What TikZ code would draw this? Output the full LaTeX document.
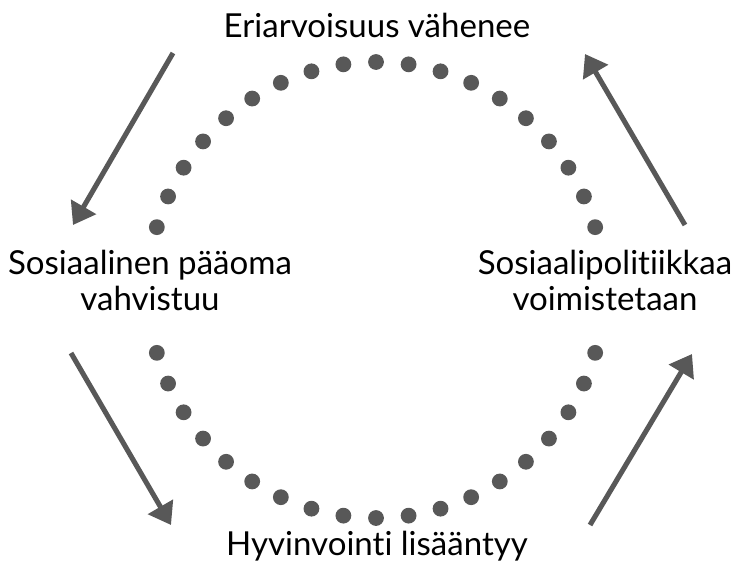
\documentclass[tikz,border=0pt]{standalone}
\usepackage{fontspec}
\setmainfont{Lato}[Ligatures=NoCommon]
\usetikzlibrary{arrows.meta}
\definecolor{dotgray}{HTML}{585858}

\begin{document}
\begin{tikzpicture}[x=0.025cm,y=-0.025cm,
  font=\fontsize{23.5}{25}\selectfont,
  label text/.style={align=center,inner sep=0pt,anchor=base},
  cycle arrow/.style={draw=dotgray,line width=3.6pt,
   -{Triangle[length=15pt,width=20pt]}}]
 \useasboundingbox (0,0) rectangle (738,566);
 % the four stages
 \node[label text] (vahenee) at (377,37) {Eriarvoisuus vähenee};
 \node[label text] (paaoma) at (150,310) {Sosiaalinen pääoma\\vahvistuu};
 \node[label text] (politiikka) at (605,310) {Sosiaalipolitiikkaa\\voimistetaan};
 \node[label text] (hyvinvointi) at (377,555) {Hyvinvointi lisääntyy};
 % dotted circle, upper and lower halves
 \coordinate (C) at (376,290);
 \foreach \X [evaluate=\X as \A using {196+\X*148/18}] in {0,...,18}
 {\fill[dotgray] (C) ++(\A:228) circle (7.9);
  \fill[dotgray] (C) ++(164-\X*148/18:228) circle (7.9);}
 % arrows round the cycle
 \draw[cycle arrow] (173,53) coordinate (tlA) -- (73,225) coordinate (tlB);
 \draw[cycle arrow] (71,353) coordinate (blA) -- (171,525) coordinate (blB);
 \draw[cycle arrow] (590,525) coordinate (brA) -- (692,354) coordinate (brB);
 \draw[cycle arrow] (685,225) coordinate (trA) -- (585,54) coordinate (trB);
\end{tikzpicture}
\end{document}
